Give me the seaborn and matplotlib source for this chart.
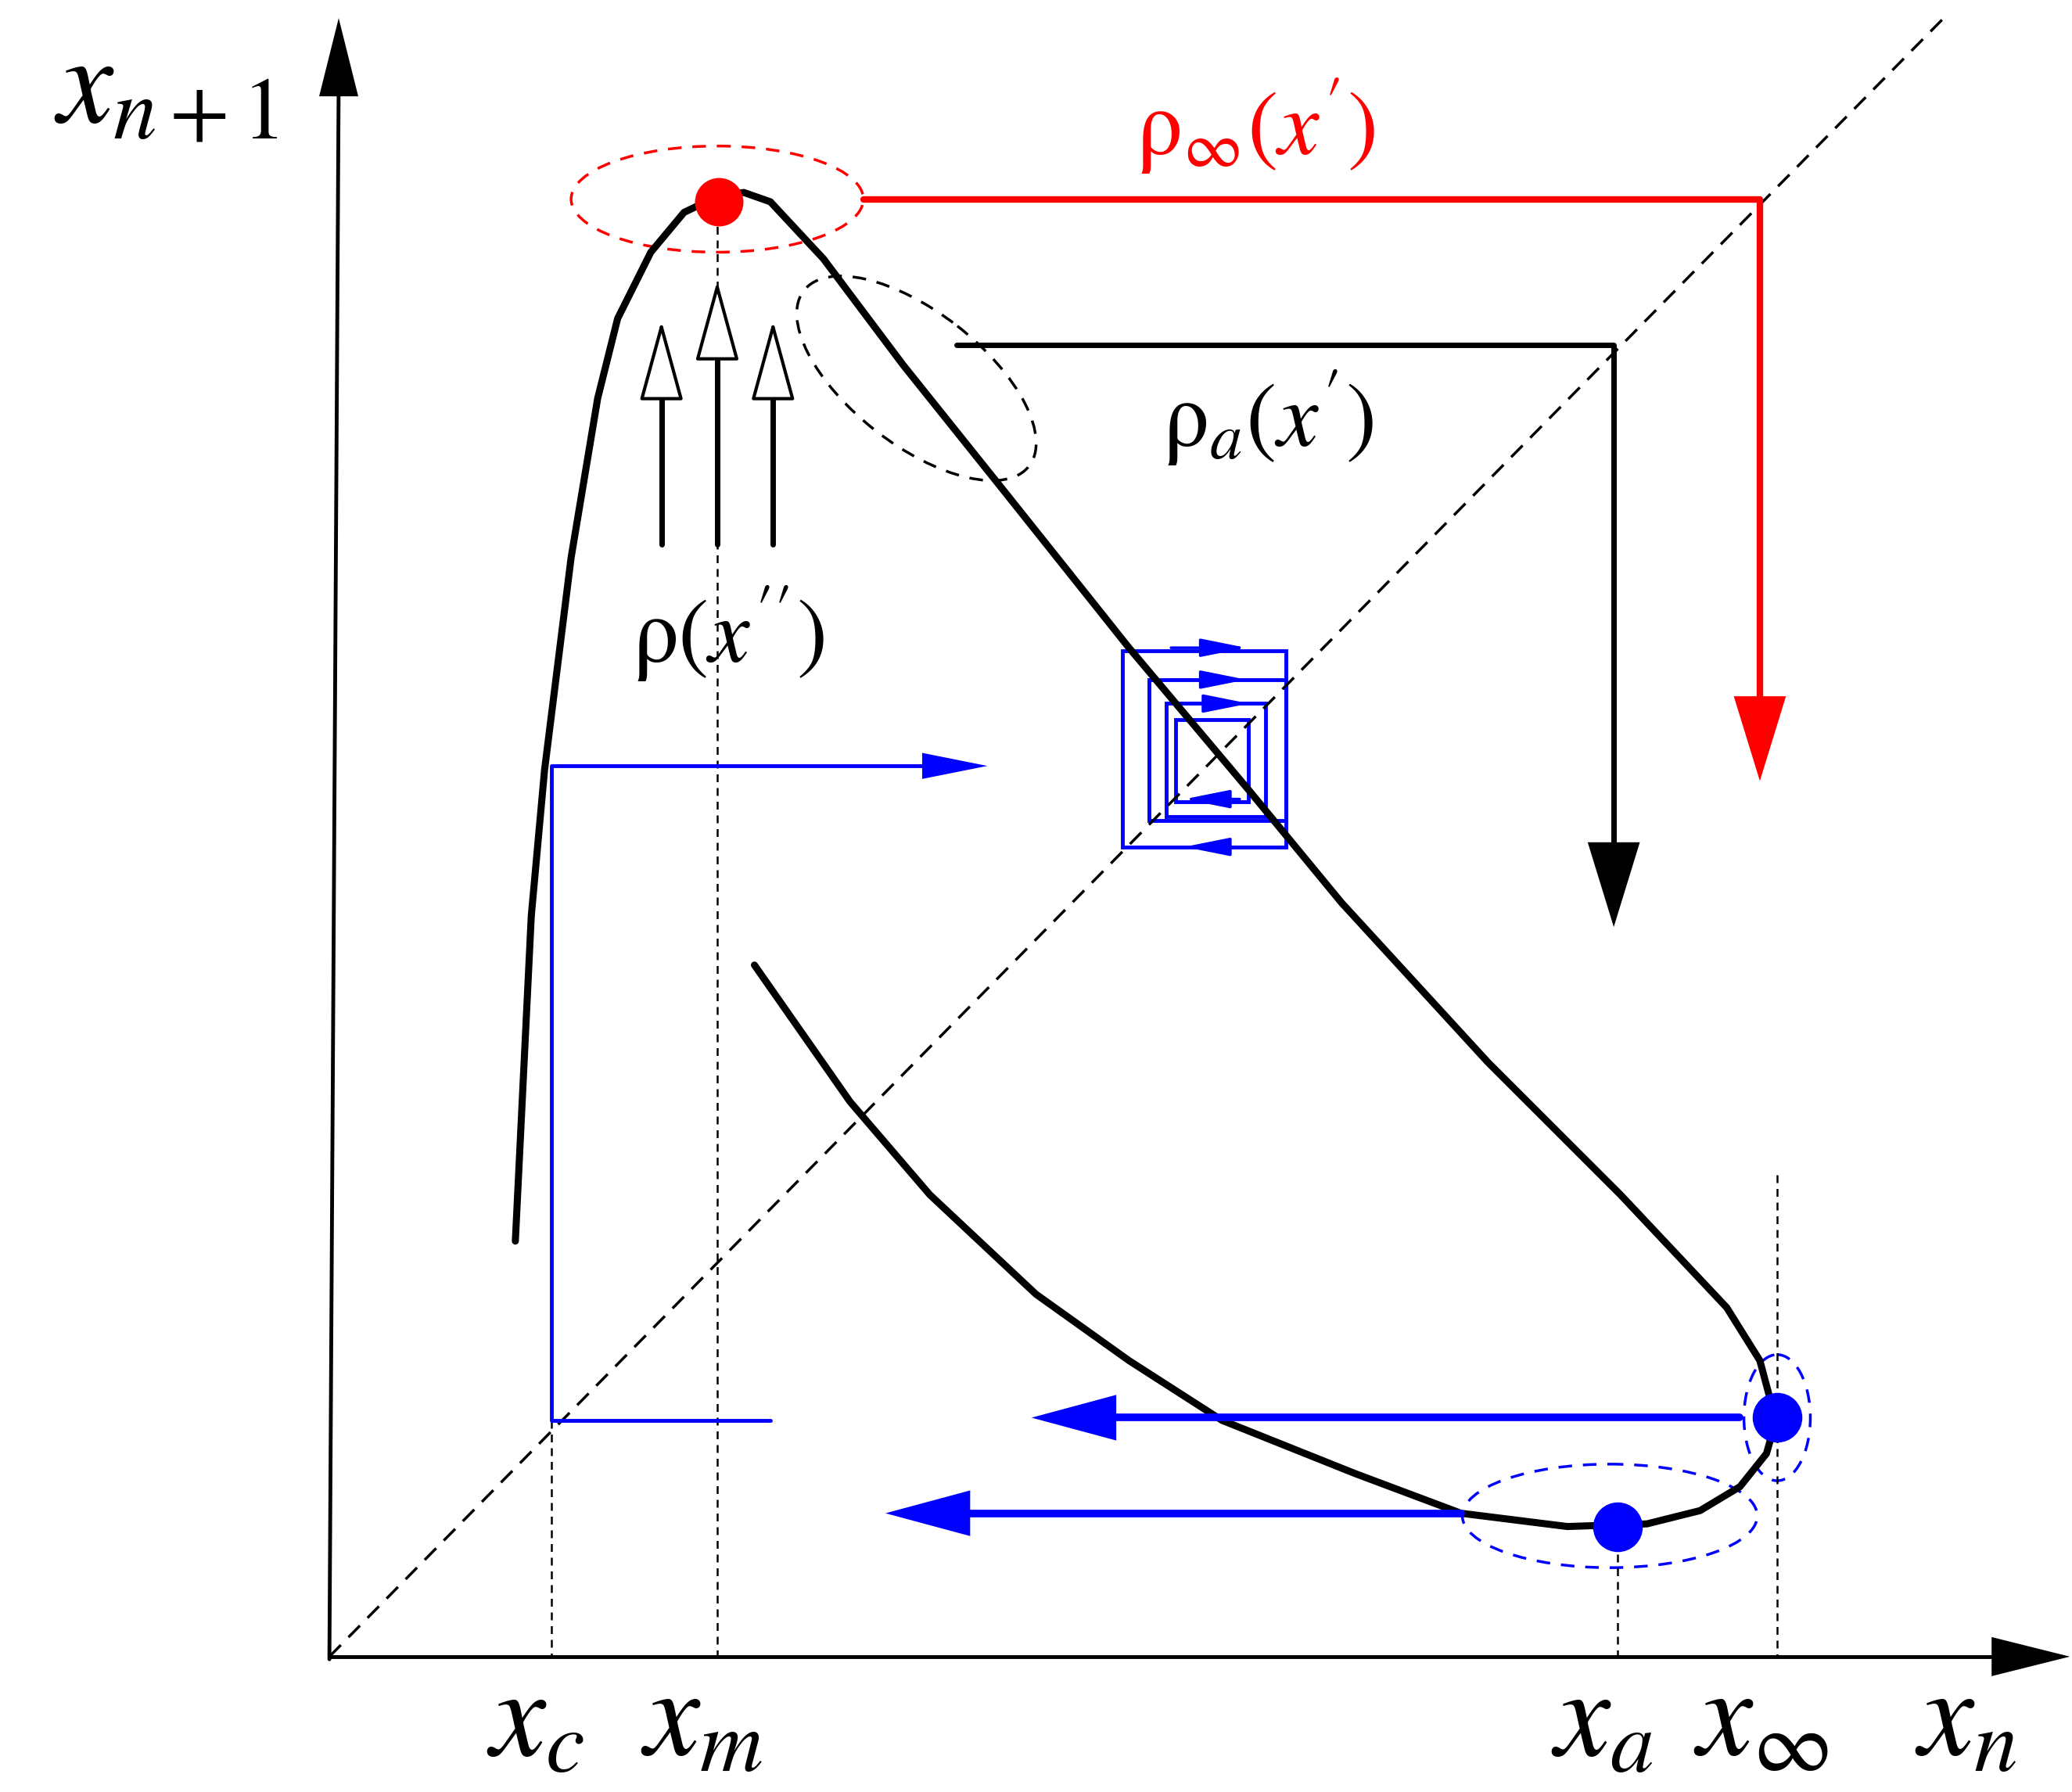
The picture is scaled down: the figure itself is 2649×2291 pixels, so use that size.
import numpy as np
import matplotlib.pyplot as plt
import seaborn as sns
from matplotlib.patches import Ellipse, Rectangle

sns.set_style("white")
plt.rcParams['mathtext.fontset'] = 'stix'
plt.rcParams['font.family'] = ['STIXGeneral', 'DejaVu Serif']
plt.rcParams['text.color'] = 'black'

# map curve (schematic coordinates, y downward)
curve_x = [388, 400, 410, 430, 450, 465, 490, 515, 540, 560, 580, 620, 680, 760, 850, 940,
           1010, 1120, 1220, 1300, 1325, 1337, 1330, 1310, 1280, 1240, 1180, 1100, 1020,
           920, 850, 780, 700, 640, 568]
curve_y = [935, 690, 580, 420, 300, 240, 190, 160, 148, 145, 152, 195, 275, 375, 488, 595,
           680, 800, 900, 985, 1025, 1070, 1095, 1120, 1138, 1148, 1150, 1140, 1110,
           1070, 1025, 975, 900, 830, 727]

# spiral boxes: left, top, width, height
spiral_boxes = [(845, 490, 123, 148), (865, 512, 103, 106), (878, 530, 75, 85), (885, 542, 55, 62)]
tick_x = {'$x_c$': 415, '$x_m$': 540, '$x_a$': 1218, '$x_\\infty$': 1338}
tick_top = [1070, 160, 1150, 885]

fig = plt.figure(figsize=(26.49, 22.91), dpi=100)
ax = fig.add_axes([0, 0, 1, 1])
ax.set_xlim(0, 1560)
ax.set_ylim(1350, 0)
ax.axis('off')


def head(color, length=1.0, width=0.35, lw=0, ms=60, fc=None):
    return dict(arrowstyle=f'-|>,head_length={length},head_width={width}', color=color,
                lw=lw, mutation_scale=ms, fc=fc or color)


# axes
ax.plot([248, 1510], [1248, 1248], color='black', lw=3.5)
ax.plot([248, 255], [1250, 60], color='black', lw=3.5)
ax.annotate('', xy=(1560, 1248), xytext=(1500, 1248), arrowprops=head('black', 1.2, 0.3))
ax.annotate('', xy=(255, 12), xytext=(255, 70), arrowprops=head('black', 1.2, 0.3))
ax.plot([248, 1465], [1248, 12], ls=(0, (6, 4)), color='black', lw=2.5)
ax.text(125, 70, '$x_{n+1}$', fontsize=115, ha='center', va='center')
ax.text(1480, 1300, '$x_n$', fontsize=115, ha='center', va='center')
for (lab, x), top in zip(tick_x.items(), tick_top):
    ax.plot([x, x], [top, 1248], ls=(0, (4, 3)), color='black', lw=1.8)
    ax.text(x - 12, 1300, lab, fontsize=115, ha='center', va='center')

sns.lineplot(x=curve_x, y=curve_y, sort=False, estimator=None, color='black', lw=6.5, ax=ax)

# red branch
ax.add_patch(Ellipse((540, 150), 220, 80, fill=False, ec='red', ls=(0, (5, 4)), lw=2.5))
ax.scatter([541], [152], s=1900, color='red', zorder=5)
ax.plot([650, 1325, 1325], [150, 150, 540], color='red', lw=6)
ax.annotate('', xy=(1325, 590), xytext=(1325, 510), arrowprops=head('red', 1.3, 0.4))
ax.text(945, 95, r'$\mathrm{\rho}_\infty(x^\prime)$', fontsize=85, color='red', ha='center', va='center')

# black branch
ax.add_patch(Ellipse((690, 285), 215, 100, angle=38, fill=False, ec='black', ls=(0, (5, 4)), lw=2.5))
ax.plot([720, 1215, 1215], [260, 260, 650], color='black', lw=5)
ax.annotate('', xy=(1215, 700), xytext=(1215, 620), arrowprops=head('black', 1.3, 0.4))
ax.text(955, 315, r'$\mathrm{\rho}_a(x^\prime)$', fontsize=85, ha='center', va='center')

# hollow arrows
for x, tip in zip([498, 540, 582], [240, 210, 240]):
    ax.plot([x, x], [410, tip + 60], color='black', lw=5)
    ax.annotate('', xy=(x, tip), xytext=(x, tip + 65),
                arrowprops=head('black', 1.1, 0.3, lw=3, fc='white'))
ax.text(548, 478, r'$\mathrm{\rho}(x^{\prime\prime})$', fontsize=85, ha='center', va='center')

# blue iteration
ax.plot([580, 415, 415, 700], [1070, 1070, 577, 577], color='blue', lw=3.5)
ax.annotate('', xy=(745, 577), xytext=(685, 577), arrowprops=head('blue', 1.0, 0.2))
for l, t, w, h in spiral_boxes:
    ax.add_patch(Rectangle((l, t), w, h, fill=False, ec='blue', lw=3.5))
for y0, x1, x2 in [(488, 880, 940), (512, 880, 940), (530, 895, 942)]:
    ax.annotate('', xy=(x2, y0), xytext=(x1, y0), arrowprops=head('blue', 0.6, 0.12, lw=2.5))
for y0, x1, x2 in [(602, 935, 890), (638, 950, 890)]:
    ax.annotate('', xy=(x2, y0), xytext=(x1, y0), arrowprops=head('blue', 0.6, 0.12, lw=2.5))

ax.add_patch(Ellipse((1338, 1068), 50, 95, fill=False, ec='blue', ls=(0, (5, 4)), lw=2.5))
ax.add_patch(Ellipse((1212, 1142), 222, 78, fill=False, ec='blue', ls=(0, (5, 4)), lw=2.5))
ax.scatter([1338, 1218], [1068, 1150], s=2000, color='blue', zorder=5)
ax.plot([840, 1310], [1068, 1068], color='blue', lw=7)
ax.plot([730, 1100], [1140, 1140], color='blue', lw=7)
ax.annotate('', xy=(775, 1068), xytext=(850, 1068), arrowprops=head('blue', 1.3, 0.35))
ax.annotate('', xy=(665, 1140), xytext=(740, 1140), arrowprops=head('blue', 1.3, 0.35))

fig.savefig('out.png', dpi=100)
